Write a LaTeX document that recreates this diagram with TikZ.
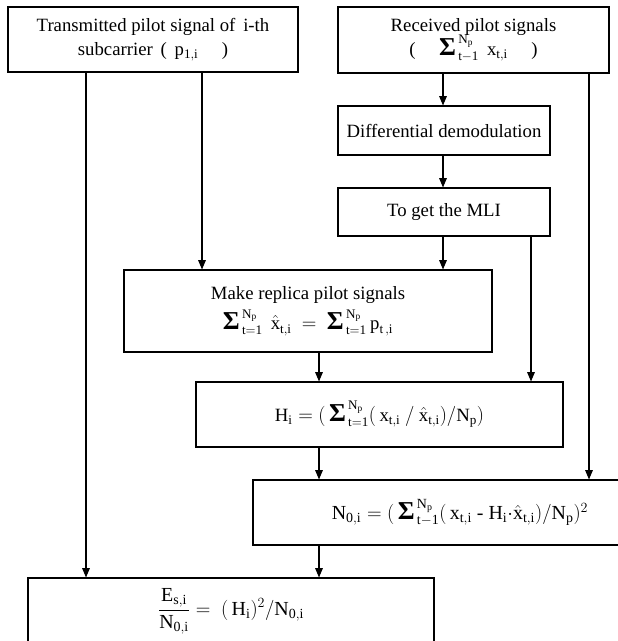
\documentclass[tikz,border=0pt]{standalone}
\usepackage{amsmath}
\usepackage{fontspec}
\setmainfont{Liberation Serif}
\usetikzlibrary{arrows.meta,positioning,calc}
\newcommand\fcsum{\mathop{\text{\fontsize{22}{22}\selectfont\bfseries Σ}\hspace{2pt}}\nolimits}
\tikzset{
  fcbox/.style={
    rectangle, draw=black, line width=0.9pt, fill=white,
    align=center, font=\fontsize{16}{21}\selectfont, inner sep=2pt
  },
  fcarrow/.style={-{Triangle[length=8pt,width=6.5pt]}, line width=0.9pt, draw=black},
}

\begin{document}
\begin{tikzpicture}[x=0.03cm, y=-0.03cm]
  \fill[white] (0,0) rectangle (618,641);
  \useasboundingbox (0,0) rectangle (618,641);
  % boxes
  \node (tx) [fcbox, minimum width=8.7cm, minimum height=1.95cm] at (153,39.5)
    {Transmitted pilot signal of\, i-th\\ subcarrier\, (\, $\mathrm{p_{1,i}}$ \quad)};
  \node (rx) [fcbox, minimum width=8.13cm, minimum height=1.98cm] at (473.5,40)
    {Received pilot signals\\ ( \quad $\fcsum_{\mathrm{t-1}}^{\mathrm{N_p}}\ \mathrm{x_{t,i}}$ \quad )};
  \node (demod) [fcbox, minimum width=6.36cm, minimum height=1.47cm] at (444,130.5) {Differential demodulation};
  \node (mli) [fcbox, minimum width=6.36cm, minimum height=1.44cm] at (444,212) {To get the MLI};
  \node (replica) [fcbox, minimum width=11.04cm, minimum height=2.46cm] at (308,311)
    {Make replica pilot signals\\[5pt]
     $\fcsum_{\mathrm{t=1}}^{\mathrm{N_p}}\ \hat{\mathrm{x}}_{\mathrm{t,i}}\ =\ \fcsum_{\mathrm{t=1}}^{\mathrm{N_p}}\mathrm{p_{t\,,i}}$};
  \node (chan) [fcbox, minimum width=11.01cm, minimum height=1.95cm] at (379.5,414.5)
    {$\mathrm{H_i} = (\,\fcsum_{\mathrm{t=1}}^{\mathrm{N_p}}(\,\mathrm{x_{t,i}}\ /\ \hat{\mathrm{x}}_{\mathrm{t,i}})/\mathrm{N_p})$};
  \node (noise) [fcbox, minimum width=12.42cm, minimum height=1.95cm, font=\fontsize{17}{21}\selectfont] at (460,512.5)
    {$\mathrm{N_{0,i}} = (\,\fcsum_{\mathrm{t-1}}^{\mathrm{N_p}}(\,\mathrm{x_{t,i}}\ \text{-}\ \mathrm{H_i}{\cdot}\hat{\mathrm{x}}_{\mathrm{t,i}})/\mathrm{N_p})^2$};
  \node (snr) [fcbox, minimum width=12.18cm, minimum height=2.01cm, font=\fontsize{17}{21}\selectfont] at (231,611.5)
    {$\dfrac{\mathrm{E_{s,i}}}{\mathrm{N_{0,i}}} = \ (\,\mathrm{H_i})^2/\mathrm{N_{0,i}}$};
  % columns of the connectors
  \coordinate (c1) at (86,0);
  \coordinate (c2) at (202,0);
  \coordinate (c3) at (443,0);
  \coordinate (c4) at (531,0);
  \coordinate (c5) at (589,0);
  \coordinate (c6) at (319,0);
  % connectors
  \draw[fcarrow] (tx.south -| c1) -- (snr.north -| c1);
  \draw[fcarrow] (tx.south -| c2) -- (replica.north -| c2);
  \draw[fcarrow] (rx.south -| c3) -- (demod.north -| c3);
  \draw[fcarrow] (demod.south -| c3) -- (mli.north -| c3);
  \draw[fcarrow] (mli.south -| c3) -- (replica.north -| c3);
  \draw[fcarrow] (mli.south -| c4) -- (chan.north -| c4);
  \draw[fcarrow] (rx.south -| c5) -- (noise.north -| c5);
  \draw[fcarrow] (replica.south -| c6) -- (chan.north -| c6);
  \draw[fcarrow] (chan.south -| c6) -- (noise.north -| c6);
  \draw[fcarrow] (noise.south -| c6) -- (snr.north -| c6);
\end{tikzpicture}
\end{document}
